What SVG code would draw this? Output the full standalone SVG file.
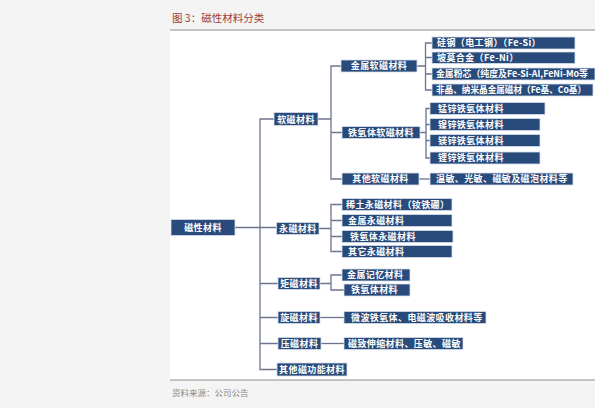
<svg xmlns="http://www.w3.org/2000/svg" width="595" height="408" viewBox="0 0 595 408">
<style>
.bg{fill:#f4f4f4}
.panel{fill:#ffffff}
.rule{stroke:#8c8c96;stroke-width:1.2}
.box{fill:#294b7b;stroke:#d6deea;stroke-width:0.8}
.t{font-family:"Noto Sans CJK SC","Liberation Sans",sans-serif;font-size:9px;fill:#ffffff;font-weight:bold;letter-spacing:0.4px}
.tn{letter-spacing:0px}
.c{text-anchor:middle}
.conn{fill:none;stroke:#6e7390;stroke-width:1.3}
.title{font-family:"Noto Sans CJK SC","Liberation Sans",sans-serif;font-size:10.5px;fill:#9a3a3a}
.src{font-family:"Noto Sans CJK SC","Liberation Sans",sans-serif;font-size:8.5px;fill:#8a8a8a}
</style>
<rect class="bg" x="0" y="0" width="595" height="408"/>
<rect class="panel" x="170" y="30" width="425" height="350"/>
<text class="title" x="172" y="22">图 3：磁性材料分类</text>
<line class="rule" x1="170" y1="30" x2="595" y2="30"/>
<line class="rule" x1="170" y1="380" x2="595" y2="380"/>
<text class="src" x="172" y="396">资料来源：公司公告</text>

<g id="connectors">
  <path class="conn" d="M235,227.5 H276"/>
  <path class="conn" d="M274,119 H260 V369.5 H277"/>
  <path class="conn" d="M260,283.5 H278 M260,317.5 H278 M260,343.5 H278"/>
  <path class="conn" d="M318,119 H331 M341,66 H331 V179 H342 M331,132.5 H342"/>
  <path class="conn" d="M417,66 H425.5 M432,43 H425.5 V90 H432 M425.5,57.5 H432 M425.5,74 H432"/>
  <path class="conn" d="M420,132.5 H426 M430,108.5 H426 V158 H430 M426,124.5 H430 M426,140.5 H430"/>
  <path class="conn" d="M419,179 H430"/>
  <path class="conn" d="M319,228.5 H331 M342,204.5 H331 V251.5 H342 M331,220.5 H342 M331,236.5 H342"/>
  <path class="conn" d="M320,283.5 H331 M342,275 H331 V290 H344"/>
  <path class="conn" d="M320,317.5 H344"/>
  <path class="conn" d="M321,343.5 H344"/>
</g>

<g id="n-root"><rect class="box" x="171" y="219.5" width="64" height="16"/><text class="t c" x="203" y="230.8">磁性材料</text></g>

<g id="n-soft"><rect class="box" x="274" y="112.5" width="44" height="13"/><text class="t c" x="296" y="122.5">软磁材料</text></g>
<g id="n-hard"><rect class="box" x="276.5" y="222.5" width="42.5" height="12"/><text class="t c" x="297.8" y="231.8">永磁材料</text></g>
<g id="n-rect"><rect class="box" x="278" y="277.5" width="42" height="12"/><text class="t c" x="299" y="286.8">矩磁材料</text></g>
<g id="n-gyro"><rect class="box" x="278" y="311.5" width="42" height="12"/><text class="t c" x="299" y="320.8">旋磁材料</text></g>
<g id="n-piezo"><rect class="box" x="278" y="337.5" width="43" height="12"/><text class="t c" x="299.5" y="346.8">压磁材料</text></g>
<g id="n-other"><rect class="box" x="277" y="363" width="70" height="13"/><text class="t c" x="312" y="372.8">其他磁功能材料</text></g>

<g id="n-msoft"><rect class="box" x="341" y="60" width="76" height="12"/><text class="t c" x="379" y="69.3">金属软磁材料</text></g>
<g id="n-fsoft"><rect class="box" x="342" y="126.5" width="78" height="12"/><text class="t c" x="381" y="135.8">铁氧体软磁材料</text></g>
<g id="n-osoft"><rect class="box" x="342" y="173" width="77" height="12"/><text class="t c" x="380.5" y="182.3">其他软磁材料</text></g>

<g id="n-si"><rect class="box" x="432" y="37" width="143" height="12"/><text class="t" x="437" y="46.3">硅钢（电工钢）（Fe-Si）</text></g>
<g id="n-ni"><rect class="box" x="432" y="52" width="143" height="11.5"/><text class="t" x="437" y="61">坡莫合金（Fe-Ni）</text></g>
<g id="n-pow"><rect class="box" x="432" y="68" width="163" height="12"/><text class="t tn" x="436" y="77.3" textLength="152" lengthAdjust="spacingAndGlyphs">金属粉芯（纯度及Fe-Si-Al,FeNi-Mo等</text></g>
<g id="n-amor"><rect class="box" x="432" y="84" width="161" height="12"/><text class="t tn" x="436" y="93.3" textLength="150" lengthAdjust="spacingAndGlyphs">非晶、纳米晶金属磁材（Fe基、Co基）</text></g>

<g id="n-mnzn"><rect class="box" x="430" y="102.5" width="115" height="12"/><text class="t" x="438" y="111.8">锰锌铁氧体材料</text></g>
<g id="n-nizn"><rect class="box" x="430" y="118.5" width="110" height="12"/><text class="t" x="438" y="127.8">镍锌铁氧体材料</text></g>
<g id="n-mgzn"><rect class="box" x="430" y="134.5" width="110" height="12"/><text class="t" x="438" y="143.8">镁锌铁氧体材料</text></g>
<g id="n-lizn"><rect class="box" x="430" y="152" width="110" height="12"/><text class="t" x="438" y="161.3">锂锌铁氧体材料</text></g>
<g id="n-temp"><rect class="box" x="430" y="173" width="143" height="12"/><text class="t" x="436" y="182.3">温敏、光敏、磁敏及磁泡材料等</text></g>

<g id="n-re"><rect class="box" x="342" y="198.5" width="110" height="12"/><text class="t" x="346" y="207.8">稀土永磁材料（钕铁硼）</text></g>
<g id="n-mhard"><rect class="box" x="342" y="214.5" width="110" height="12"/><text class="t" x="348" y="223.8">金属永磁材料</text></g>
<g id="n-fhard"><rect class="box" x="342" y="230.5" width="111" height="12"/><text class="t" x="350" y="239.8">铁氧体永磁材料</text></g>
<g id="n-ohard"><rect class="box" x="342" y="245.5" width="110" height="12"/><text class="t" x="348" y="254.8">其它永磁材料</text></g>

<g id="n-mem"><rect class="box" x="342" y="269" width="68" height="12"/><text class="t" x="347" y="278.3">金属记忆材料</text></g>
<g id="n-ferr"><rect class="box" x="344" y="284" width="66" height="12"/><text class="t" x="351" y="293.3">铁氧体材料</text></g>

<g id="n-micro"><rect class="box" x="344" y="311.5" width="142" height="12"/><text class="t" x="351" y="320.8">微波铁氧体、电磁波吸收材料等</text></g>
<g id="n-magn"><rect class="box" x="344" y="337.5" width="119" height="12"/><text class="t" x="348" y="346.8">磁致伸缩材料、压敏、磁敏</text></g>
</svg>
